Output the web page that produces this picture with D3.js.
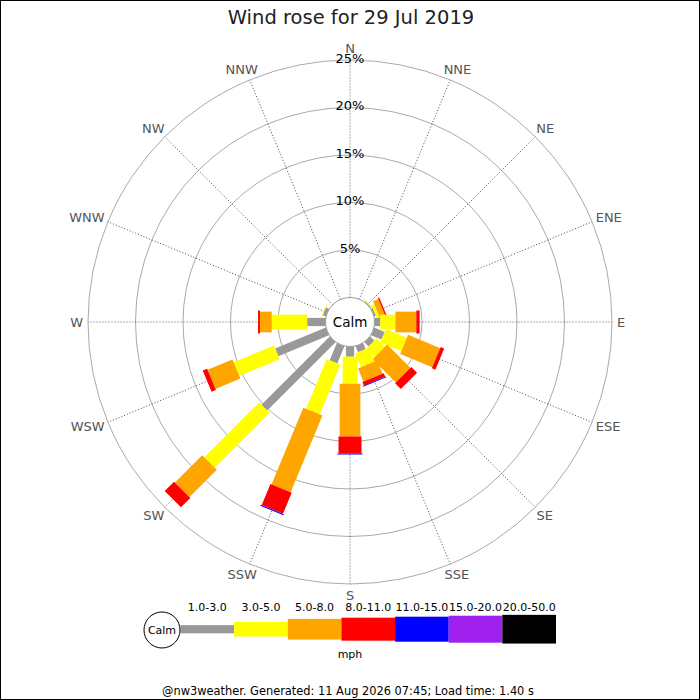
<!DOCTYPE html>
<html><head><meta charset="utf-8">
<script src="https://cdn.jsdelivr.net/npm/d3@7"></script>
<style>body{margin:0;background:#fff}svg{display:block;font-family:"DejaVu Sans",sans-serif}</style>
</head><body><svg id="c" width="700" height="700"></svg>
<script>
const directions = ["N","NNE","NE","ENE","E","ESE","SE","SSE","S","SSW","SW","WSW","W","WNW","NW","NNW"];
const speedClasses = ["1.0-3.0","3.0-5.0","5.0-8.0","8.0-11.0","11.0-15.0","15.0-20.0","20.0-50.0"];
const classColors = ["#999999","#ffff00","#ffa500","#ff0000","#0000ff","#a020f0","#000000"];
// percentage of time per direction for each speed class
const s1to3   = [0, 0, 0.10, 0.20, 0.60, 1.19, 0.62, 0.68, 1.07, 1.96, 10.17, 5.77, 1.93, 0.35, 0, 0];
const s3to5   = [0, 0, 0.05, 0.30, 1.60, 2.40, 1.25, 1.59, 2.85, 5.67, 8.16, 4.59, 3.73, 0.08, 0, 0];
const s5to8   = [0, 0, 0.03, 0.60, 2.20, 3.66, 3.47, 1.50, 5.55, 8.75, 4.07, 2.84, 1.24, 0, 0, 0];
const s8to11  = [0, 0, 0, 0.15, 0.35, 0.40, 0.86, 0.40, 1.80, 2.40, 1.40, 0.50, 0.20, 0, 0, 0];
const s11to15 = [0, 0, 0, 0, 0, 0, 0, 0.08, 0.10, 0.12, 0, 0, 0, 0, 0, 0];
const s15to20 = [0, 0, 0, 0, 0, 0, 0, 0, 0, 0, 0, 0, 0, 0, 0, 0];
const s20to50 = [0, 0, 0, 0, 0, 0, 0, 0, 0, 0, 0, 0, 0, 0, 0, 0];
const ringTicks = [5, 10, 15, 20, 25];
const title = "Wind rose for 29 Jul 2019";
const footer = "@nw3weather. Generated: 11 Aug 2026 07:45; Load time: 1.40 s";

const series = [s1to3, s3to5, s5to8, s8to11, s11to15, s15to20, s20to50];
const classWidths = [8.2, 14.7, 20.7, 23, 25, 27, 28.7];

const svg = d3.select("#c");
const cx = 350, cy = 322, calmR = 24.5, outerR = 262, labelR = 267;
const r = d3.scaleLinear().domain([0, 25]).range([calmR, outerR]);
const ang = d3.scalePoint().domain(directions).range([0, 337.5]);

svg.append("rect").attr("x",0.5).attr("y",0.5).attr("width",699).attr("height",699)
  .attr("fill","#fff").attr("stroke","#000");

svg.append("text").attr("x",351).attr("y",24).attr("text-anchor","middle")
  .attr("font-size",19.5).attr("fill","#222").text(title);

const g = svg.append("g").attr("transform",`translate(${cx},${cy})`);

// rings
g.selectAll("circle.ring").data(ringTicks).join("circle").attr("class","ring")
  .attr("r", d => r(d)).attr("fill","none").attr("stroke","#aaa").attr("stroke-width",1);

// radial lines
g.selectAll("line.spoke").data(directions).join("line").attr("class","spoke")
  .attr("transform", d => `rotate(${ang(d)})`)
  .attr("x1",0).attr("x2",0).attr("y1",-calmR).attr("y2",-outerR)
  .attr("stroke","#333").attr("stroke-width",0.8).attr("stroke-dasharray","1,2");

// bars
directions.forEach((dir, i) => {
  const bg = g.append("g").attr("transform",`rotate(${ang(dir)})`);
  let cum = 0;
  series.forEach((s, k) => {
    const v = s[i];
    if (v <= 0) return;
    const a = cum, b = cum + v;
    cum = b;
    bg.append("rect").attr("x", -classWidths[k]/2).attr("width", classWidths[k])
      .attr("y", -r(b)).attr("height", r(b) - r(a)).attr("fill", classColors[k]);
  });
});

// calm circle
g.append("circle").attr("r", calmR).attr("fill","#fff").attr("stroke","#999").attr("stroke-width",1);
g.append("text").attr("text-anchor","middle").attr("dy","0.35em").attr("font-size",13.5)
  .attr("fill","#000").text("Calm");

// direction labels: placed just outside the outer ring, pushed away from the rose
g.selectAll("text.dir").data(directions).join("text").attr("class","dir")
  .attr("text-anchor","middle").attr("dy","0.35em").attr("font-size",13).attr("fill","#555")
  .text(d => d)
  .each(function(d) {
    const t = ang(d)*Math.PI/180, s = Math.sin(t), c = Math.cos(t);
    const w = this.getComputedTextLength();
    d3.select(this)
      .attr("x", labelR*s + s*w/2)
      .attr("y", -labelR*c - c*6.5);
  });

// ring labels
g.selectAll("text.tick").data(ringTicks).join("text").attr("class","tick")
  .attr("x",0).attr("y", d => -r(d) - 2).attr("dy","0.35em").attr("text-anchor","middle")
  .attr("font-size",13).attr("fill","#000").text(d => d + "%");

// legend
const lx = d3.scaleBand().domain(speedClasses).range([180.5, 556]);
const lg = svg.append("g");
lg.selectAll("rect").data(speedClasses).join("rect")
  .attr("x", d => lx(d)).attr("width", lx.bandwidth())
  .attr("y", (d,k) => 629.2 - classWidths[k]/2)
  .attr("height", (d,k) => classWidths[k])
  .attr("fill", (d,k) => classColors[k]);
lg.selectAll("text.lab").data(speedClasses).join("text").attr("class","lab")
  .attr("x", d => lx(d) + lx.bandwidth()/2).attr("y", 611).attr("text-anchor","middle")
  .attr("font-size",11).attr("fill","#000").text(d => d);
lg.append("circle").attr("cx",162).attr("cy",630).attr("r",18).attr("fill","#fff").attr("stroke","#000");
lg.append("text").attr("x",162).attr("y",630).attr("dy","0.35em").attr("text-anchor","middle")
  .attr("font-size",11).text("Calm");
lg.append("text").attr("x",350).attr("y",658).attr("text-anchor","middle").attr("font-size",11).text("mph");

svg.append("text").attr("x",348).attr("y",695).attr("text-anchor","middle").attr("font-size",11.4)
  .attr("fill","#000").text(footer);
</script></body></html>
